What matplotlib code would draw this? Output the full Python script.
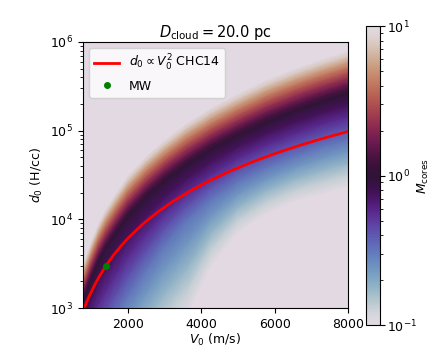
import numpy as np
import matplotlib
matplotlib.use('Agg')
from matplotlib import pyplot as plt
from matplotlib.colors import LogNorm

# red curve d0 ~ V0^2 (CHC14)
line_v0 = [760, 850, 950, 1100, 1250, 1400, 1600, 1800, 2000, 2400, 2800,
           3200, 3700, 4200, 4800, 5400, 6000, 6700, 7400, 8000]
line_d0 = [880, 1110, 1380, 1850, 2390, 3000, 3920, 4960, 6120, 8820, 12000,
           15700, 21000, 27000, 35300, 44600, 55100, 68700, 83800, 98000]

# MW point
mw_v0 = [1400]
mw_d0 = [3000]

# M_cores map, read column by column:
# log10 d0 of the dark ridge (M_cores = 1), dex above it to M = 10,
# dex below it to M = 10^-0.5 (blue) and to M = 0.1
map_v0 = [700, 800, 1000, 1200, 1400, 1700, 2000, 2500, 3000, 3600,
          4300, 5000, 5800, 6600, 7300, 8000, 8200]
ridge_logd = [2.99, 3.12, 3.34, 3.53, 3.68, 3.87, 4.04, 4.26, 4.44, 4.62,
              4.80, 4.95, 5.10, 5.23, 5.33, 5.42, 5.45]
upper_dex = [0.42, 0.42, 0.43, 0.44, 0.45, 0.45, 0.46, 0.46, 0.46, 0.47,
             0.47, 0.47, 0.48, 0.48, 0.48, 0.48, 0.48]
blue_dex = [0.95, 0.95, 0.95, 0.95, 0.95, 0.93, 0.90, 0.82, 0.72, 0.63,
            0.56, 0.52, 0.51, 0.51, 0.51, 0.52, 0.52]
lower_dex = [2.00, 2.00, 2.00, 2.00, 2.00, 1.98, 1.95, 1.90, 1.82, 1.70,
             1.30, 1.10, 1.03, 1.02, 1.04, 1.05, 1.05]

# mesh rows follow the ridge, one row every 0.125 dex in M_cores
ridge = np.array(ridge_logd)
up = np.array(upper_dex)
blue = np.array(blue_dex)
low = np.array(lower_dex)
logm = np.arange(-1.0, 1.0001, 0.125)
rows = []
for m in logm:
    if m >= 0:
        rows.append(ridge + m * up)
    elif m >= -0.5:
        rows.append(ridge + (m / 0.5) * blue)
    else:
        rows.append(ridge - blue + ((m + 0.5) / 0.5) * (low - blue))
ncol = len(map_v0)
logd = np.vstack([np.full(ncol, 0.5)] + rows + [np.full(ncol, 8.0)])
mvals = np.concatenate([[-1.0], logm, [1.0]])
X = np.tile(np.array(map_v0, dtype=float), (logd.shape[0], 1))
Y = 10 ** logd
C = np.tile(10 ** mvals[:, None], (1, ncol))

fig = plt.figure(figsize=(4.36, 3.47), dpi=100)
ax = fig.add_axes([0.190, 0.112, 0.608, 0.767])
cax = fig.add_axes([0.839, 0.063, 0.032, 0.862])

cmap = plt.get_cmap('twilight')
ax.set_facecolor(cmap(0.0))
mesh = ax.pcolormesh(X, Y, C, shading='gouraud', cmap=cmap,
                     norm=LogNorm(vmin=0.1, vmax=10))

ax.plot(line_v0, line_d0, color='red', lw=2, label=r'$d_0 \propto V_0^2$ CHC14')
ax.plot(mw_v0, mw_d0, 'o', color='green', ms=4, label='MW')

ax.set_yscale('log')
ax.set_xlim(770, 8000)
ax.set_ylim(1e3, 1e6)
ax.set_xticks([2000, 4000, 6000, 8000])
ax.tick_params(labelsize=9)
ax.set_xlabel(r'$V_0$ (m/s)', fontsize=9, labelpad=1)
ax.set_ylabel(r'$d_0$ (H/cc)', fontsize=9)
ax.set_title(r'$D_{\rm cloud} = 20.0$ pc', fontsize=10.5, pad=3)
ax.legend(loc='upper left', fontsize=9)

cb = fig.colorbar(mesh, cax=cax)
cb.ax.tick_params(labelsize=9, pad=1.5)
cb.set_label(r'$M_{\rm cores}$', fontsize=9, labelpad=-1)

fig.savefig('out.png', dpi=100)
